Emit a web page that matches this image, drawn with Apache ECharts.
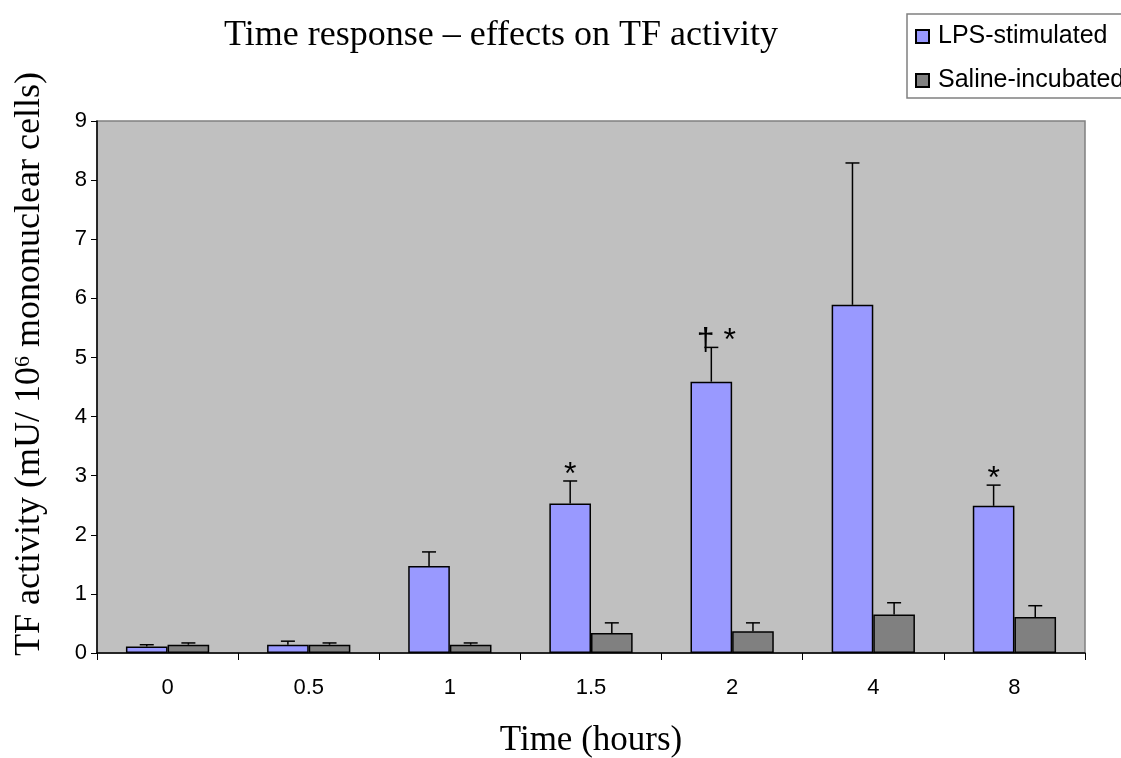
<!DOCTYPE html>
<html>
<head>
<meta charset="utf-8">
<script src="https://cdn.jsdelivr.net/npm/echarts@6/dist/echarts.min.js"></script>
<style>html,body{margin:0;padding:0;background:#fff;}#chart{width:1121px;height:758px;}</style>
</head>
<body>
<div id="chart"></div>
<script>
const categories = ['0', '0.5', '1', '1.5', '2', '4', '8'];
const lpsValues = [0.11, 0.14, 1.47, 2.53, 4.59, 5.89, 2.49];
const lpsErrTop = [0.14, 0.20, 1.71, 2.91, 5.17, 8.29, 2.84];
const salineValues = [0.14, 0.14, 0.14, 0.34, 0.37, 0.65, 0.61];
const salineErrTop = [0.17, 0.17, 0.17, 0.51, 0.51, 0.85, 0.80];
const annotations = ['', '', '', '*', '\u2020 *', '', '*'];
const yTicks = [0, 1, 2, 3, 4, 5, 6, 7, 8, 9];

const GAP = 0.41;
const serif = '"Liberation Serif","Times New Roman",serif';
const sans = '"Liberation Sans",Arial,sans-serif';

function errSeries(vals, tops, side, withNotes) {
  return {
    type: 'custom',
    z: 5,
    silent: true,
    data: vals.map((v, i) => [i, v, tops[i]]),
    encode: { x: 0, y: [1, 2] },
    renderItem: function (params, api) {
      const i = api.value(0);
      const base = api.coord([i, api.value(1)]);
      const top = api.coord([i, api.value(2)]);
      const bw = api.size([1, 0])[0];
      const barW = bw * (1 - GAP) / 2;
      const x = base[0] + side * barW / 2;
      const cap = 7;
      const children = [
        { type: 'line', shape: { x1: x, y1: base[1], x2: x, y2: top[1] }, style: { stroke: '#000', lineWidth: 1.5 } },
        { type: 'line', shape: { x1: x - cap, y1: top[1], x2: x + cap, y2: top[1] }, style: { stroke: '#000', lineWidth: 1.5 } }
      ];
      const note = withNotes ? annotations[params.dataIndex] : '';
      if (note) {
        children.push({
          type: 'text',
          style: { text: note, x: x + (note.length > 1 ? 5 : 0), y: top[1] + 10, align: 'center', verticalAlign: 'bottom',
                   font: '32px ' + sans, fill: '#000' }
        });
      }
      return { type: 'group', children: children };
    }
  };
}

const chart = echarts.init(document.getElementById('chart'), null, { renderer: 'canvas' });
chart.setOption({
  animation: false,
  backgroundColor: '#fff',
  title: {
    text: 'Time response \u2013 effects on TF activity',
    left: 219, top: 13,
    textStyle: { fontFamily: serif, fontSize: 36, fontWeight: 'normal', color: '#000' }
  },
  legend: {
    orient: 'vertical',
    left: 907, top: 14,
    padding: [10, 40, 5, 8],
    itemGap: 19,
    itemWidth: 13, itemHeight: 13,
    icon: 'rect',
    backgroundColor: '#fff',
    borderColor: '#808080', borderWidth: 1.5,
    textStyle: { fontFamily: sans, fontSize: 25, color: '#000', padding: [0, 0, 0, 4] },
    data: ['LPS-stimulated', 'Saline-incubated']
  },
  grid: {
    left: 97, right: 36, top: 121, bottom: 105,
    outerBoundsMode: 'none',
    containLabel: false,
    show: true, backgroundColor: '#c0c0c0', borderColor: '#808080', borderWidth: 1.5
  },
  xAxis: {
    type: 'category',
    data: categories,
    name: 'Time (hours)',
    nameLocation: 'middle',
    nameGap: 70,
    nameTextStyle: { fontFamily: serif, fontSize: 35, color: '#000' },
    axisLine: { lineStyle: { color: '#000', width: 1.5 } },
    axisTick: { show: true, length: 7, alignWithLabel: false, lineStyle: { color: '#000' } },
    axisLabel: { fontFamily: sans, fontSize: 22, color: '#000', margin: 24 }
  },
  yAxis: {
    type: 'value',
    min: yTicks[0], max: yTicks[yTicks.length - 1], interval: 1,
    name: '{a|TF activity (mU/ 10}{s|6}{a| mononuclear cells)}',
    nameLocation: 'middle',
    nameGap: 49,
    nameTextStyle: {
      color: '#000',
      padding: [0, 0, 0, 46],
      rich: {
        a: { fontFamily: serif, fontSize: 36, color: '#000' },
        s: { fontFamily: serif, fontSize: 22, color: '#000', verticalAlign: 'top', padding: [0, 0, 14, 0] }
      }
    },
    axisLine: { show: true, lineStyle: { color: '#000', width: 1.5 } },
    axisTick: { show: true, length: 6, lineStyle: { color: '#000' } },
    splitLine: { show: false },
    axisLabel: { fontFamily: sans, fontSize: 22, color: '#000', margin: 10 }
  },
  series: [
    {
      name: 'LPS-stimulated', type: 'bar', data: lpsValues,
      barGap: '0%', barCategoryGap: (GAP * 100) + '%',
      itemStyle: { color: '#9999ff', borderColor: '#000', borderWidth: 1.5 }
    },
    {
      name: 'Saline-incubated', type: 'bar', data: salineValues,
      itemStyle: { color: '#808080', borderColor: '#000', borderWidth: 1.5 }
    },
    errSeries(lpsValues, lpsErrTop, -1, true),
    errSeries(salineValues, salineErrTop, 1, false)
  ]
});
</script>
</body>
</html>
